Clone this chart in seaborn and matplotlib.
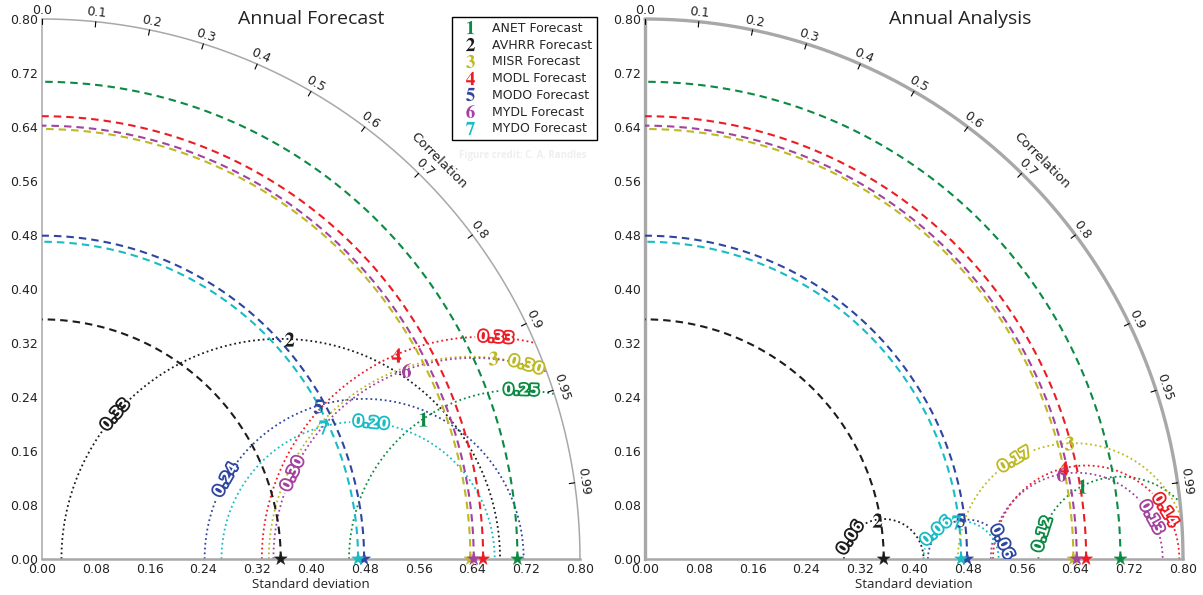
import numpy as np
import matplotlib
matplotlib.use("Agg")
import matplotlib.pyplot as plt
import matplotlib.patheffects as pe
from matplotlib.lines import Line2D
import seaborn as sns

# ---- data -----------------------------------------------------------------
products = ["ANET", "AVHRR", "MISR", "MODL", "MODO", "MYDL", "MYDO"]
colors = ["#0b8a43", "#1c1c1c", "#bdb924", "#ed1c24", "#2e46a0", "#a3429f", "#17bcc4"]

# standard deviation of the reference (observed) field for each product
ref_std = [0.707, 0.355, 0.637, 0.656, 0.479, 0.642, 0.470]

# forecast statistics
fc_std = [0.604, 0.491, 0.734, 0.607, 0.469, 0.610, 0.461]
fc_corr = [0.939, 0.748, 0.914, 0.867, 0.875, 0.888, 0.905]

# analysis statistics
an_std = [0.659, 0.350, 0.654, 0.636, 0.472, 0.631, 0.466]
an_corr = [0.9865, 0.986, 0.965, 0.9775, 0.9926, 0.980, 0.9929]

corr_ticks = [0.0, 0.1, 0.2, 0.3, 0.4, 0.5, 0.6, 0.7, 0.8, 0.9, 0.95, 0.99]
corr_tick_labels = ["0.0", "0.1", "0.2", "0.3", "0.4", "0.5", "0.6", "0.7",
                    "0.8", "0.9", "0.95", "0.99"]
std_ticks = [0.00, 0.08, 0.16, 0.24, 0.32, 0.40, 0.48, 0.56, 0.64, 0.72, 0.80]

# ---- layout ---------------------------------------------------------------
R_MAX = 0.8
GRAY = "#a8a8a8"
# where each RMS contour gets its label
fc_label_pos = [(0.713, 0.244), (0.115, 0.209), (0.719, 0.283), (0.675, 0.322),
                (0.278, 0.115), (0.381, 0.123), (0.489, 0.196)]
an_label_pos = [(0.595, 0.036), (0.310, 0.029), (0.550, 0.147), (0.775, 0.073),
                (0.533, 0.026), (0.753, 0.061), (0.431, 0.044)]

sns.set_style("white")
plt.rcParams["font.family"] = ["DejaVu Sans"]
plt.rcParams["mathtext.fontset"] = "stix"

fig = plt.figure(figsize=(12.03, 5.95), dpi=100)
W, H = 1203.0, 595.0
ax1 = fig.add_axes([42 / W, 36 / H, 538 / W, 540 / H])
ax2 = fig.add_axes([645 / W, 36 / H, 538 / W, 540 / H])

grid = np.linspace(0, R_MAX, 801)
GX, GY = np.meshgrid(grid, grid)
inside = GX ** 2 + GY ** 2 <= R_MAX ** 2


def setup_axes(ax, frame_lw):
    ax.set_xlim(0, R_MAX)
    ax.set_ylim(0, R_MAX)
    for side in ("top", "right"):
        ax.spines[side].set_visible(False)
    ax.spines["left"].set_color(GRAY)
    ax.spines["left"].set_linewidth(frame_lw)
    ax.spines["bottom"].set_color(GRAY)
    ax.spines["bottom"].set_linewidth(1.8)
    ax.set_xticks(std_ticks)
    ax.set_yticks(std_ticks)
    ax.set_xticklabels([f"{t:.2f}" for t in std_ticks])
    ax.set_yticklabels([f"{t:.2f}" for t in std_ticks])
    ax.tick_params(direction="in", length=4, width=0.8, color="black",
                   labelsize=9, labelcolor="#222222", pad=3)

    # outer correlation arc
    t = np.linspace(0, np.pi / 2, 400)
    ax.plot(R_MAX * np.cos(t), R_MAX * np.sin(t), color=GRAY, lw=frame_lw,
            clip_on=False, zorder=3)
    for c, lab in zip(corr_ticks, corr_tick_labels):
        th = np.arccos(c)
        ax.plot([R_MAX * np.cos(th), 0.99 * R_MAX * np.cos(th)],
                [R_MAX * np.sin(th), 0.99 * R_MAX * np.sin(th)],
                color="black", lw=0.8, clip_on=False, zorder=4)
        ax.text(0.813 * np.cos(th), 0.813 * np.sin(th), lab,
                rotation=np.degrees(th) - 90, rotation_mode="anchor",
                ha="center", va="center", fontsize=9, color="#222222")
    ax.text(0.835 * np.cos(np.pi / 4), 0.835 * np.sin(np.pi / 4), "Correlation",
            rotation=-45, rotation_mode="anchor", ha="center", va="center",
            fontsize=9.5, color="#222222")


def draw_panel(ax, stds, corrs, label_pos):
    stds = np.asarray(stds)
    corrs = np.asarray(corrs)
    px = stds * corrs
    py = stds * np.sqrt(1 - corrs ** 2)
    t = np.linspace(0, np.pi / 2, 300)
    for i, (name, col, ref) in enumerate(zip(products, colors, ref_std)):
        # reference standard deviation arc
        sns.lineplot(x=ref * np.cos(t), y=ref * np.sin(t), sort=False,
                     estimator=None, color=col, linestyle=(0, (3.6, 2.4)),
                     linewidth=1.5, ax=ax, zorder=3)
        # centred RMS difference contour through the model point
        rms = np.sqrt(ref ** 2 + stds[i] ** 2 - 2 * ref * stds[i] * corrs[i])
        field = np.where(inside, np.hypot(GX - ref, GY), np.nan)
        cs = ax.contour(GX, GY, field, levels=[rms], colors=[col],
                        linestyles="dotted", linewidths=1.3, zorder=2)
        with plt.rc_context({"font.weight": "bold"}):
            texts = ax.clabel(cs, fmt="%.2f", inline=True, inline_spacing=3,
                              fontsize=10.5, manual=[label_pos[i]])
        for tx in texts:
            tx.set_color("white")
            tx.set_path_effects([pe.withStroke(linewidth=2.6, foreground=col)])
        # model point drawn as its index number
        sns.scatterplot(x=[px[i]], y=[py[i]], marker=f"$\\mathbf{{{i + 1}}}$",
                        color=col, s=105, linewidth=0, ax=ax, zorder=8,
                        legend=False)
    # reference stars on the x axis
    sns.scatterplot(x=ref_std, y=np.zeros(len(ref_std)), hue=products,
                    palette=colors, marker="*", s=95, edgecolor="face",
                    linewidth=0.3, ax=ax, legend=False, clip_on=False, zorder=9)
    ax.set_xlim(0, R_MAX)
    ax.set_ylim(0, R_MAX)


setup_axes(ax1, 1.1)
setup_axes(ax2, 2.4)
draw_panel(ax1, fc_std, fc_corr, fc_label_pos)
draw_panel(ax2, an_std, an_corr, an_label_pos)
for ax in (ax1, ax2):
    ax.set_xlabel("Standard deviation", fontfamily="Open Sans", fontsize=9.5,
                  labelpad=1, color="#222222")
    ax.set_ylabel("")

ax1.text(0.5, 0.9907, "Annual Forecast", transform=ax1.transAxes,
         ha="center", va="baseline", fontfamily="Open Sans", fontsize=14,
         color="#222222")
ax2.text(0.585, 0.9907, "Annual Analysis", transform=ax2.transAxes,
         ha="center", va="baseline", fontfamily="Open Sans", fontsize=14,
         color="#222222")

handles = [Line2D([0], [0], marker=f"$\\mathbf{{{i + 1}}}$", color=c,
                  linestyle="None", markersize=9.5, markeredgewidth=0)
           for i, c in enumerate(colors)]
leg = ax1.legend(handles, [f"{p} Forecast" for p in products],
                 loc="upper right", bbox_to_anchor=(1.032, 1.004),
                 borderaxespad=0, frameon=True, fancybox=False,
                 edgecolor="black", framealpha=1, fontsize=9,
                 labelspacing=0.3, handlelength=2, handletextpad=0.8)
leg.get_frame().set_linewidth(1.0)
leg.set_zorder(20)

ax1.text(0.894, 0.748, "Figure credit: C. A. Randles", transform=ax1.transAxes,
         ha="center", va="center", fontsize=7, fontfamily="Open Sans",
         fontweight="bold", color="#efefef")

fig.savefig("out.png", dpi=100)
